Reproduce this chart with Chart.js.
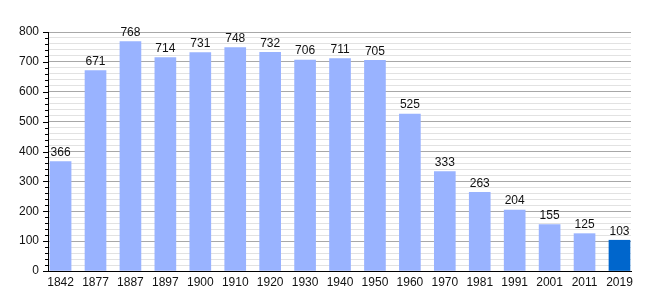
<!DOCTYPE html>
<html>
<head>
<meta charset="utf-8">
<script src="https://cdn.jsdelivr.net/npm/chart.js@4"></script>
<style>
  body { margin: 0; background: #fff; }
  #wrap { width: 660px; height: 300px; }
</style>
</head>
<body>
<div id="wrap"><canvas id="pop"></canvas></div>
<script>
const years = ["1842", "1877", "1887", "1897", "1900", "1910", "1920", "1930", "1940", "1950", "1960", "1970", "1981", "1991", "2001", "2011", "2019"];
const population = [366, 671, 768, 714, 731, 748, 732, 706, 711, 705, 525, 333, 263, 204, 155, 125, 103];
const highlightYear = "2019";

const FONT = "'Liberation Sans', Arial, sans-serif";

// minor tick marks on the y axis + value labels over bars
const extras = {
  id: "extras",
  afterDatasetsDraw(chart) {
    const ctx = chart.ctx;
    const y = chart.scales.y;
    const left = chart.chartArea.left;
    ctx.save();
    ctx.strokeStyle = "#000";
    ctx.lineWidth = 1;
    for (let v = 0; v <= 800; v += 20) {
      const py = Math.round(y.getPixelForValue(v)) + 0.5;
      const len = v % 100 === 0 ? 5 : 3;
      ctx.beginPath();
      ctx.moveTo(left - len, py);
      ctx.lineTo(left, py);
      ctx.stroke();
    }
    ctx.fillStyle = "#111";
    ctx.font = "12px " + FONT;
    ctx.textAlign = "center";
    ctx.textBaseline = "bottom";
    chart.getDatasetMeta(0).data.forEach((bar, i) => {
      ctx.fillText(population[i], bar.x, bar.y - 3);
    });
    ctx.restore();
  }
};

pieCh = new Chart(document.getElementById("pop").getContext("2d"), {
  type: "bar",
  data: {
    datasets: [{
      data: population.map((v, i) => ({ x: i, y: v })),
      backgroundColor: years.map(yr => yr === highlightYear ? "#0066cc" : "#99b3ff"),
      barThickness: 21
    }]
  },
  options: {
    responsive: true,
    maintainAspectRatio: false,
    animation: false,
    layout: { padding: { top: 32, right: 29, left: 0, bottom: 0 } },
    plugins: { legend: { display: false }, tooltip: { enabled: false } },
    scales: {
      x: {
        type: "linear",
        offset: false,
        min: -0.36,
        max: 16.33,
        afterBuildTicks(scale) {
          scale.ticks = years.map((_, i) => ({ value: i }));
        },
        afterFit(scale) { scale.height = 29; },
        grid: { display: false, drawTicks: false },
        border: { color: "#000", width: 1 },
        ticks: {
          autoSkip: false,
          maxRotation: 0,
          padding: 4,
          color: "#111",
          font: { family: FONT, size: 12 },
          callback: v => years[v]
        }
      },
      y: {
        min: 0,
        max: 800,
        afterFit(scale) { scale.width = 48; },
        border: { color: "#000", width: 1 },
        grid: {
          drawTicks: false,
          color: ctx => ctx.tick.value % 100 === 0 ? "#a8a8a8" : "#e2e2e2"
        },
        ticks: {
          stepSize: 20,
          autoSkip: false,
          padding: 9,
          color: "#111",
          font: { family: FONT, size: 12 },
          callback: v => v % 100 === 0 ? v : ""
        }
      }
    }
  },
  plugins: [extras]
});
</script>
</body>
</html>
